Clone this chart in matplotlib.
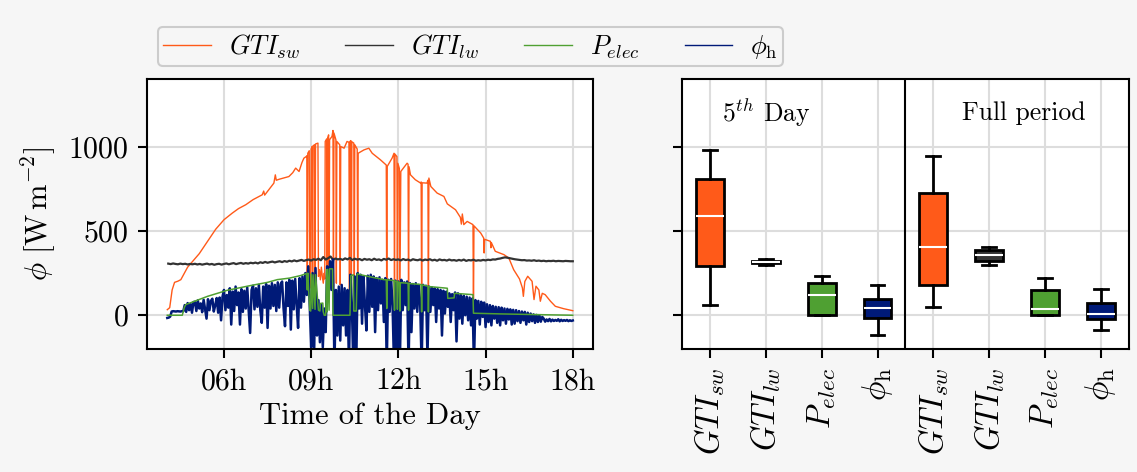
import matplotlib
matplotlib.use("Agg")
import matplotlib.dates as mdates
import numpy as np
import pandas as pd
from matplotlib import pyplot as plt

plt.rcParams["font.family"] = "serif"
plt.rcParams["font.serif"] = ["cmr10", "DejaVu Serif"]
plt.rcParams["mathtext.fontset"] = "cm"
plt.rcParams["axes.formatter.use_mathtext"] = True
plt.rcParams["axes.unicode_minus"] = False

DAY = "2021-07-05 "

# GTI short wave (irregular samples, keeps the short dropouts)
gti_sw_times = [
    "04:03", "04:08", "04:13", "04:18", "04:25", "04:31", "04:45", "05:09", "05:30", "05:43",
    "06:00", "06:17", "06:30", "06:45", "07:00", "07:19", "07:22", "07:24", "07:43", "07:46",
    "07:48", "07:54", "08:14", "08:22", "08:28", "08:35", "08:41", "08:45", "08:50",
    "08:51", "08:52", "08:53", "08:56", "08:57", "08:59", "09:00", "09:02", "09:03", "09:04",
    "09:07", "09:08", "09:09", "09:14", "09:15", "09:17", "09:19", "09:21", "09:23", "09:25",
    "09:27", "09:28", "09:29", "09:32", "09:33", "09:34", "09:36", "09:37", "09:38", "09:43",
    "09:45", "09:46", "09:47", "09:51", "09:52", "09:53", "09:59", "10:00", "10:01", "10:08",
    "10:14", "10:18", "10:19", "10:20", "10:22", "10:23", "10:24", "10:28", "10:29", "10:30",
    "10:35", "10:36", "10:37", "10:49", "10:59", "11:06", "11:23", "11:35", "11:36", "11:37",
    "11:47", "11:51", "11:52", "11:53", "11:57", "11:58", "11:59", "12:02", "12:03", "12:05",
    "12:18", "12:20", "12:21", "12:22", "12:25", "12:35", "12:46", "12:47", "12:48", "12:49",
    "12:59", "13:01", "13:02", "13:03", "13:07", "13:20", "13:34", "13:41", "13:58", "14:08",
    "14:10", "14:12", "14:15", "14:22", "14:34", "14:35", "14:36", "14:50", "14:56", "14:57",
    "14:58", "15:10", "15:11", "15:12", "15:20", "15:38", "15:48", "15:58", "16:10", "16:16",
    "16:18", "16:21", "16:27", "16:36", "16:40", "16:44", "16:50", "16:53", "16:57", "17:03",
    "17:14", "17:24", "17:41", "18:00",
]
gti_sw = [
    33, 45, 150, 195, 202, 211, 285, 365, 455, 510,
    566, 605, 632, 655, 685, 714, 736, 712, 783, 832,
    800, 806, 822, 845, 872, 852, 905, 931, 941,
    945, 175, 960, 975, 160, 190, 985, 1000, 170, 1005,
    1010, 200, 1015, 1020, 230, 270, 210, 285, 230, 190,
    250, 215, 1030, 1045, 180, 1050, 1069, 200, 1040, 1060,
    1095, 170, 1080, 1040, 190, 1030, 1010, 180, 1000, 990,
    1030, 1025, 150, 1030, 1035, 140, 1028, 1020, 160, 1010,
    985, 120, 960, 980, 990, 960, 921, 890, 40, 882,
    931, 960, 30, 955, 940, 35, 900, 870, 30, 852,
    901, 895, 40, 880, 832, 803, 783, 790, 30, 785,
    783, 800, 35, 813, 763, 724, 704, 660, 625, 580,
    540, 600, 537, 556, 537, 10, 530, 487, 458, 369,
    450, 438, 400, 430, 379, 359, 339, 270, 215, 162,
    112, 200, 231, 201, 93, 172, 150, 83, 130, 122,
    83, 53, 39, 27,
]

# electrical power (irregular samples)
p_elec_times = [
    "04:03", "04:34", "04:38", "04:41", "05:26", "06:07", "06:55", "07:30", "07:50", "08:15",
    "08:38", "08:50", "08:52", "08:53", "08:57", "08:59", "09:00", "09:03", "09:04", "09:08",
    "09:09", "09:15", "09:18", "09:19", "09:24", "09:25", "09:27", "09:30", "09:32", "09:33",
    "09:34", "09:37", "09:38", "09:44", "09:45", "10:20", "10:22", "10:27", "10:28", "10:33",
    "10:35", "10:56", "11:30", "11:35", "11:36", "11:37", "11:51", "11:52", "11:53", "11:57",
    "11:58", "11:59", "12:02", "12:03", "12:04", "12:20", "12:21", "12:22", "12:47", "12:48",
    "12:49", "13:01", "13:02", "13:03", "13:34", "13:41", "13:42", "13:55", "13:56", "14:34",
    "14:35", "15:30", "17:00", "18:00",
]
p_elec = [
    0, 0, 45, 63, 112, 148, 176, 195, 211, 220,
    235, 247, 150, 250, 30, 25, 245, 40, 240, 35,
    240, 30, 25, 70, 72, 20, 0, 0, 270, 20,
    272, 30, 275, 275, 0, 0, 235, 240, 25, 25,
    245, 231, 211, 210, 40, 210, 205, 30, 203, 200,
    35, 198, 195, 25, 193, 190, 30, 188, 182, 20,
    180, 172, 20, 170, 162, 160, 100, 103, 130, 122,
    12, 8, 3, 0,
]

# GTI long wave, 5 minute samples from 04:05 to 18:00
lw_start = "04:05"
lw_end = "18:00"
gti_lw = [
    306, 303, 307, 304, 302, 306, 303, 305, 301, 304, 302,
    305, 301, 304, 300, 303, 306, 301, 304, 299, 303, 305, 300,
    304, 307, 302, 306, 309, 303, 307, 310, 305, 309, 306, 311,
    308, 312, 307, 314, 310, 316, 311, 315, 318, 313, 317, 320,
    315, 321, 317, 323, 319, 325, 320, 324, 328, 322, 327, 330,
    324, 332, 328, 335, 326, 345, 330, 338, 348, 329, 336, 331,
    334, 328, 337, 331, 340, 327, 335, 330, 333, 326, 334, 329,
    332, 326, 335, 328, 331, 325, 334, 329, 336, 327, 332, 328,
    331, 325, 333, 327, 330, 324, 332, 328, 326, 331, 324, 330,
    327, 332, 325, 329, 323, 331, 326, 328, 324, 330, 325, 327,
    323, 328, 324, 330, 322, 327, 325, 329, 323, 326, 324, 328,
    325, 329, 327, 331, 330, 334, 336, 340, 343, 341, 338, 335,
    332, 330, 328, 326, 327, 324, 325, 323, 326, 322, 324, 321,
    323, 320, 322, 321, 323, 320, 322, 321, 320, 322, 321, 320,
    320,
]

# heat flux, 3 minute samples from 04:03 to 18:00 (one row per hour)
phi_start = "04:03"
phi_end = "18:00"
phi_h = [
    -16, -14, -8, 22, 24, 23, 22, 24, 23, 22, 24, 23, 60, 20, 72, 30, 68, 15, 78,
    80, 25, 88, 40, 70, 18, 92, 35, -20, 95, 30, 85, 98, 22, 60, 102, 15, 105, -30, 110,
    150, 30, 120, 45, 160, -55, 140, 25, 170, 60, 135, -55, 155, 20, 145, 40, 165, 30, -105, 150,
    175, 35, 160, 50, 180, 30, -45, 170, 45, 185, -75, 175, 40, 190, 55, 180, 25, 195, 45, 185,
    200, 40, -65, 195, 55, 210, -85, 205, 35, 215, 60, -75, 220, 45, 230, 80, 250, 120, 290, 60,
    -190, 250, -240, 280, -120, 90, -160, 60, -190, 40, -100, 290, 120, 320, 150, 330, -300, 150, -120, 170,
    -150, 180, -60, 160, -120, 150, -300, 240, 60, -300, 230, -300, 250, 40, 240, -50, 230, 60, -90, 235,
    20, 240, 50, 230, -100, 220, 30, 225, 70, 210, -40, 220, -300, 210, 20, 215, 60, -300, 205, -300,
    200, -300, 210, 30, 195, 60, 200, -300, 190, -100, 185, 40, 190, 20, 180, 70, -300, 180, 30, 175,
    -250, 170, 20, 165, 60, 160, -40, 155, 40, 150, -120, 145, 10, 140, 50, 130, -40, 125, 30, 135,
    -155, 130, -20, 120, -50, 115, 0, 110, -30, 105, -60, 100, -300, 90, -20, 85, -55, 80, -10, 75,
    -70, 65, -40, 60, -60, 55, -20, 50, -45, 48, -60, 45, -30, 40, -50, 38, -25, 35, -55, 32,
    -50, 30, -35, 25, -45, 22, -30, 20, -55, 15, -40, 10, -35, 5, -45, 2, -40, 0, -38, -10,
    -20, -38, -25, -35, -22, -36, -26, -34, -28, -33, -24, -36, -27, -34, -29, -33, -28, -35, -30, -34,
    -31,
]

# box plot statistics
box_labels = [r"$GTI_{sw}$", r"$GTI_{lw}$", r"$P_{elec}$", r"$\phi_\mathrm{h}$"]
day5_whislo = [59, 300, 0, -118]
day5_q1 = [294, 309, 0, -16]
day5_med = [586, 316, 122, 43]
day5_q3 = [809, 322, 189, 97]
day5_whishi = [982, 332, 235, 178]
full_whislo = [49, 298, 0, -85]
full_q1 = [178, 320, 0, -22]
full_med = [402, 359, 37, 10]
full_q3 = [722, 385, 148, 73]
full_whishi = [945, 404, 223, 156]

colors = ["#ff5a19", "#333333", "#4fa032", "#001a78"]
bg = "#f6f6f6"

t_sw = pd.to_datetime([DAY + t for t in gti_sw_times])
t_el = pd.to_datetime([DAY + t for t in p_elec_times])
t_lw = pd.date_range(DAY + lw_start, DAY + lw_end, freq="5min")
t_phi = pd.date_range(DAY + phi_start, DAY + phi_end, freq="3min")

fig = plt.figure(figsize=(11.37, 4.72), dpi=100, facecolor=bg)
ax1 = fig.add_axes([0.1293, 0.2606, 0.3923, 0.572])
ax2 = fig.add_axes([0.5998, 0.2606, 0.3931, 0.572])

l1, = ax1.plot(t_sw, gti_sw, color=colors[0], lw=1.0, label=box_labels[0])
l2, = ax1.plot(t_lw, gti_lw, color=colors[1], lw=1.6, label=box_labels[1])
l3, = ax1.plot(t_el, p_elec, color=colors[2], lw=1.1, label=box_labels[2])
l4, = ax1.plot(t_phi, phi_h, color=colors[3], lw=1.8, label=box_labels[3])
# green drawn above the blue as in the original
l3.set_zorder(3)

ax1.set_ylim(-200, 1400)
ax1.set_yticks([0, 500, 1000])
ax1.xaxis.set_major_locator(mdates.HourLocator(byhour=[6, 9, 12, 15, 18]))
ax1.xaxis.set_major_formatter(mdates.DateFormatter("%Hh"))
ax1.set_xlabel("Time of the Day", fontsize=22, labelpad=5)
ax1.set_ylabel(r"$\phi\ [\mathrm{W\,m^{-2}}]$", fontsize=22, labelpad=6)

# boxes
stats = []
for i in range(4):
    stats.append(dict(whislo=day5_whislo[i], q1=day5_q1[i], med=day5_med[i],
                      q3=day5_q3[i], whishi=day5_whishi[i]))
for i in range(4):
    stats.append(dict(whislo=full_whislo[i], q1=full_q1[i], med=full_med[i],
                      q3=full_q3[i], whishi=full_whishi[i]))

bp = ax2.bxp(stats, positions=range(1, 9), widths=0.5, patch_artist=True,
             showfliers=False,
             boxprops=dict(edgecolor="black", linewidth=2),
             whiskerprops=dict(color="black", linewidth=2),
             capprops=dict(color="black", linewidth=2),
             medianprops=dict(color="white", linewidth=1.5))
for i, patch in enumerate(bp["boxes"]):
    patch.set_facecolor(colors[i % 4])

ax2.axvline(4.5, color="black", lw=1.5, zorder=5)
ax2.set_xlim(0.5, 8.5)
ax2.set_ylim(-200, 1400)
ax2.set_yticks([0, 500, 1000])
ax2.set_yticklabels([])
ax2.set_xticks(range(1, 9))
ax2.set_xticklabels(box_labels * 2, rotation=90)
ax2.text(2.0, 1200, r"$5^{th}$ Day", fontsize=18.5, ha="center", va="center")
ax2.text(6.62, 1200, "Full period", fontsize=18.5, ha="center", va="center")

for ax in (ax1, ax2):
    ax.set_facecolor("white")
    ax.grid(True, color="#dddddd", lw=1.5)
    ax.set_axisbelow(True)
    for s in ax.spines.values():
        s.set_linewidth(1.5)
    ax.tick_params(direction="out", length=6.5, width=1.5, pad=7, labelsize=21.5)
ax2.tick_params(axis="x", labelsize=23.5)

leg = fig.legend(handles=[l1, l2, l3, l4], ncol=4, loc="upper left",
                 bbox_to_anchor=(0.139, 0.943), borderaxespad=0, fontsize=19,
                 frameon=True, facecolor=bg, edgecolor="#cccccc", framealpha=1,
                 handlelength=1.8, handletextpad=0.7, columnspacing=1.7,
                 borderpad=0.2)
leg.get_frame().set_linewidth(1.5)
for h in leg.legend_handles:
    h.set_linewidth(1.0)

fig.savefig("out.png", dpi=100, facecolor=bg)
